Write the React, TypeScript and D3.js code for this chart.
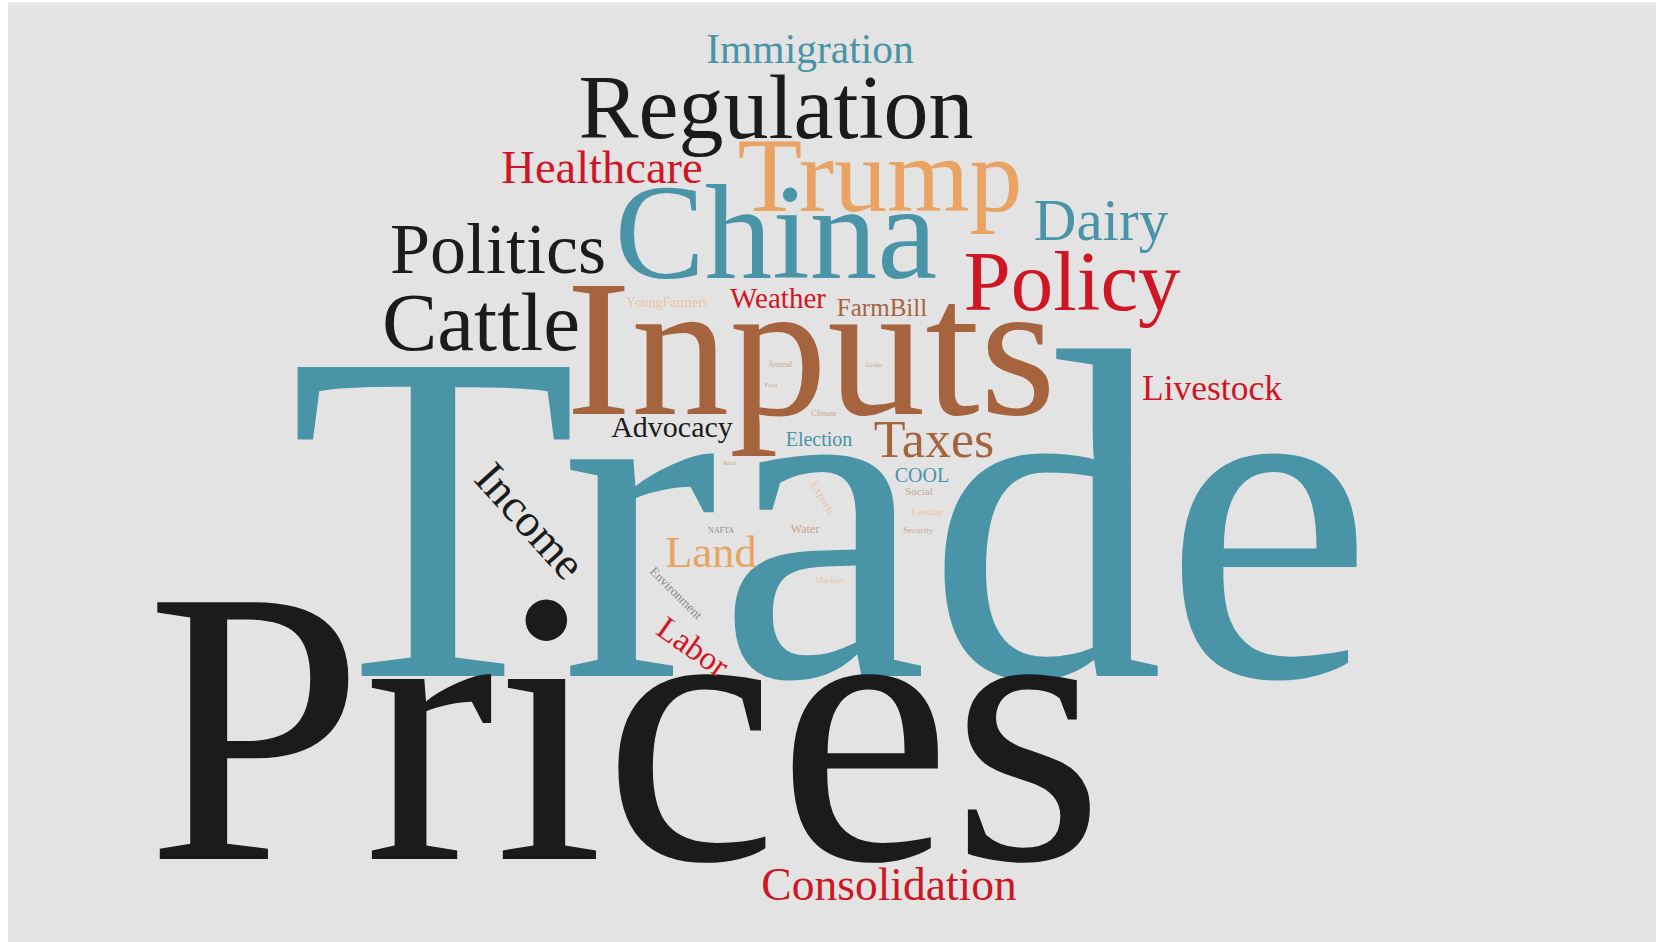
import React from "react";
import * as d3 from "d3";

// ---- data ----
const words = [
  "Trade", "Prices", "Inputs", "China", "Trump", "Regulation", "Policy", "Politics",
  "Cattle", "Dairy", "Healthcare", "Immigration", "Taxes", "Consolidation", "Income",
  "Land", "Livestock", "Labor", "Advocacy", "Weather", "FarmBill", "Election", "COOL",
  "YoungFarmers", "Environment", "Water", "Exports", "Social", "Lending", "Security",
  "NAFTA", "Markets", "Animal", "Grain", "Climate", "Rural", "Food",
];
const counts = [
  472, 392, 196, 135, 106, 90, 85, 72,
  83, 59, 46.5, 41.5, 52, 45.5, 46,
  44.5, 35.5, 33, 30, 29, 25, 20, 20,
  14, 13, 12, 12, 11, 9, 9,
  8, 9, 8, 7, 8, 6, 6,
];
const groups = [
  "teal", "black", "brown", "teal", "orange", "black", "red", "black",
  "black", "teal", "red", "teal", "brown", "red", "black",
  "orange", "red", "red", "black", "red", "brown", "teal", "teal",
  "orange", "black", "brown", "orange", "brown", "orange", "brown",
  "black", "orange", "brown", "brown", "brown", "brown", "brown",
];

// ---- layout (result of the cloud placement): centre x, baseline y, rotation ----
const layoutX = [
  831, 625, 811, 776, 880, 776, 1072, 498,
  481, 1101, 602, 810, 934, 889, 530,
  711, 1212, 693, 672, 778, 882, 819, 922,
  667, 676, 805, 823, 919, 927, 918,
  721, 830, 780, 874, 824, 730, 771,
];
const layoutY = [
  676, 859, 414, 278, 211, 138, 310, 273,
  350, 240, 183, 63, 457, 900, 521,
  567, 400, 647, 437, 308, 316, 446, 482,
  307, 593, 533, 498, 495, 515, 533,
  533, 583, 367, 367, 416, 465, 387,
];
const layoutR = [
  0, 0, 0, 0, 0, 0, 0, 0,
  0, 0, 0, 0, 0, 0, 48,
  0, 0, 35, 0, 0, 0, 0, 0,
  0, 45, 0, 60, 0, 0, 0,
  0, 0, 0, 0, 0, 0, 0,
];
const centred = [14, 17, 24, 26];

const W = 1663;
const H = 942;

export default function App() {
  const size = d3.scaleLinear().domain([0, 472]).range([0, 472]);
  const color = d3
    .scaleOrdinal<string, string>()
    .domain(["teal", "black", "brown", "orange", "red"])
    .range(["#4a94a7", "#1b1b1b", "#a5643d", "#e9a463", "#cf1624"]);
  const tiny = (c: number) => (c < 16 ? 0.5 : 1);

  return (
    <svg
      width={W}
      height={H}
      style={{ position: "absolute", left: 0, top: 0, background: "#ffffff" }}
      fontFamily="'Liberation Serif', 'Times New Roman', serif"
    >
      <rect x={8} y={2} width={1648} height={H - 2} fill="#e3e3e3" />
      <rect x={8} y={2} width={1648} height={4} fill="#e9e9e9" />
      {words.map((w, i) => {
        const fs = size(counts[i]);
        const isC = centred.includes(i);
        return (
          <text
            key={w}
            transform={`translate(${layoutX[i]},${layoutY[i]}) rotate(${layoutR[i]})`}
            textAnchor="middle"
            dy={isC ? fs * 0.33 : 0}
            fontSize={fs}
            fill={color(groups[i])}
            fillOpacity={tiny(counts[i])}
          >
            {w}
          </text>
        );
      })}
    </svg>
  );
}
